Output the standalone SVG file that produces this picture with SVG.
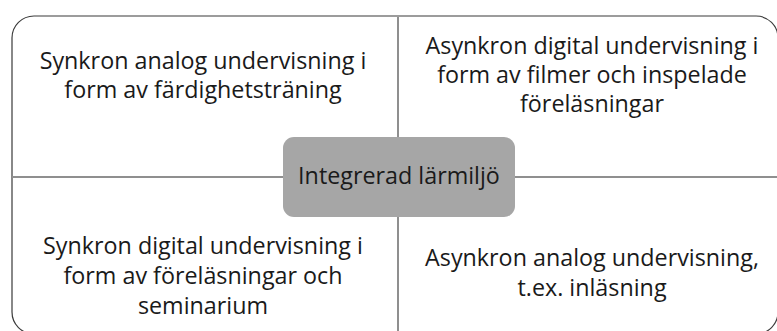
<svg xmlns="http://www.w3.org/2000/svg" width="777" height="331" viewBox="0 0 777 331">
<style>
  .lbl { font-family: "Open Sans", "Liberation Sans", sans-serif; font-size: 23.3px; fill: #1a1a1a; text-anchor: middle; }
  .quad { fill: #ffffff; stroke: none; }
  .outer { fill: none; stroke: #3a3a3a; stroke-width: 1.2; }
  .div { stroke: #8f8f8f; stroke-width: 2; fill: none; }
  .center { fill: #a6a6a6; stroke: none; }
</style>
<rect width="777" height="331" fill="#ffffff"/>
<g id="q-top-left">
  <path class="quad" d="M12,177 V38 A22,22 0 0 1 34,16 H398 V177 Z"/>
  <text class="lbl" x="203" y="69">Synkron analog undervisning i</text>
  <text class="lbl" x="203" y="98">form av färdighetsträning</text>
</g>
<g id="q-top-right">
  <path class="quad" d="M398,16 H756 A22,22 0 0 1 778,38 V177 H398 Z"/>
  <text class="lbl" x="592" y="54">Asynkron digital undervisning i</text>
  <text class="lbl" x="592" y="83">form av filmer och inspelade</text>
  <text class="lbl" x="592" y="112">föreläsningar</text>
</g>
<g id="q-bottom-left">
  <path class="quad" d="M12,177 H398 V334 H34 A22,22 0 0 1 12,312 Z"/>
  <text class="lbl" x="203" y="254">Synkron digital undervisning i</text>
  <text class="lbl" x="203" y="284">form av föreläsningar och</text>
  <text class="lbl" x="203" y="314">seminarium</text>
</g>
<g id="q-bottom-right">
  <path class="quad" d="M398,177 H778 V312 A22,22 0 0 1 756,334 H398 Z"/>
  <text class="lbl" x="592" y="266">Asynkron analog undervisning,</text>
  <text class="lbl" x="592" y="296">t.ex. inläsning</text>
</g>
<g id="connectors">
  <path class="outer" d="M34,16 H756 A22,22 0 0 1 778,38 V312 A22,22 0 0 1 756,334 H34 A22,22 0 0 1 12,312 V38 A22,22 0 0 1 34,16 Z"/>
  <line class="div" x1="398" y1="17" x2="398" y2="331"/>
  <line class="div" x1="12" y1="177" x2="777" y2="177"/>
</g>
<g id="center">
  <rect class="center" x="283" y="137" width="232" height="80" rx="11" ry="11"/>
  <text class="lbl" x="399" y="184">Integrerad lärmiljö</text>
</g>
</svg>
